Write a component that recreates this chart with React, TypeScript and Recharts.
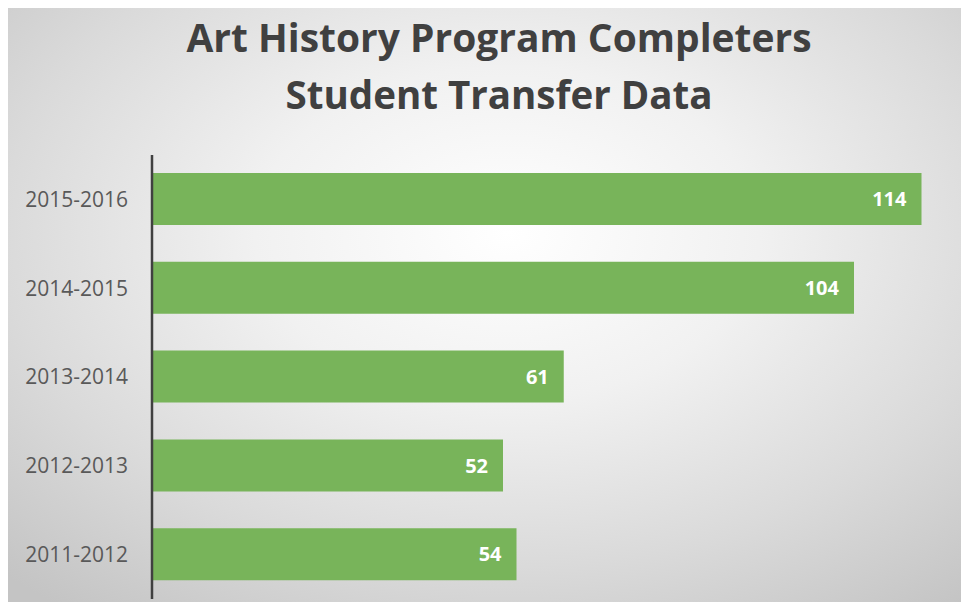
import React from "react";
import { BarChart, Bar, XAxis, YAxis, LabelList } from "recharts";

const categories = ["2015-2016", "2014-2015", "2013-2014", "2012-2013", "2011-2012"];
const completers = [114, 104, 61, 52, 54];
const titleLines = ["Art History Program Completers", "Student Transfer Data"];

const data = categories.map((c, i) => ({ year: c, value: completers[i] }));

export default function App() {
  return (
    <div
      style={{
        position: "relative",
        width: 962,
        height: 595,
        marginLeft: -1,
        marginTop: -1,
        background:
          "radial-gradient(ellipse 75% 80% at 52% 38%, #ffffff 0%, #f1f1f1 35%, #dadada 70%, #c4c4c4 100%)",
        overflow: "hidden",
      }}
    >
      <svg
        width={962}
        height={140}
        style={{ position: "absolute", left: 0, top: 0 }}
      >
        <text
          x={492}
          y={45}
          textAnchor="middle"
          fontFamily="'Open Sans', sans-serif"
          fontWeight={700}
          fontSize={39}
          fill="#404040"
          textLength={625}
          lengthAdjust="spacingAndGlyphs"
        >
          {titleLines[0]}
        </text>
        <text
          x={492}
          y={102}
          textAnchor="middle"
          fontFamily="'Open Sans', sans-serif"
          fontWeight={700}
          fontSize={39}
          fill="#404040"
          textLength={427}
          lengthAdjust="spacingAndGlyphs"
        >
          {titleLines[1]}
        </text>
      </svg>
      <div style={{ position: "absolute", left: 0, top: 0 }}>
        <BarChart
          width={962}
          height={595}
          data={data}
          layout="vertical"
          margin={{ top: 148, right: 7, bottom: 3, left: 0 }}
          barSize={52}
        >
          <XAxis type="number" domain={[0, 120]} hide />
          <YAxis
            type="category"
            dataKey="year"
            width={145}
            tickLine={false}
            tickSize={0}
            tickMargin={24}
            axisLine={{ stroke: "#404040", strokeWidth: 2.5 }}
            tick={{ fill: "#595959", fontSize: 21, fontFamily: "'Open Sans', sans-serif" }}
            interval={0}
          />
          <Bar dataKey="value" fill="#78B45A" isAnimationActive={false}>
            <LabelList
              dataKey="value"
              position="insideRight"
              offset={15}
              fill="#ffffff"
              fontSize={20}
              fontWeight={700}
              fontFamily="'Open Sans', sans-serif"
            />
          </Bar>
        </BarChart>
      </div>
    </div>
  );
}
